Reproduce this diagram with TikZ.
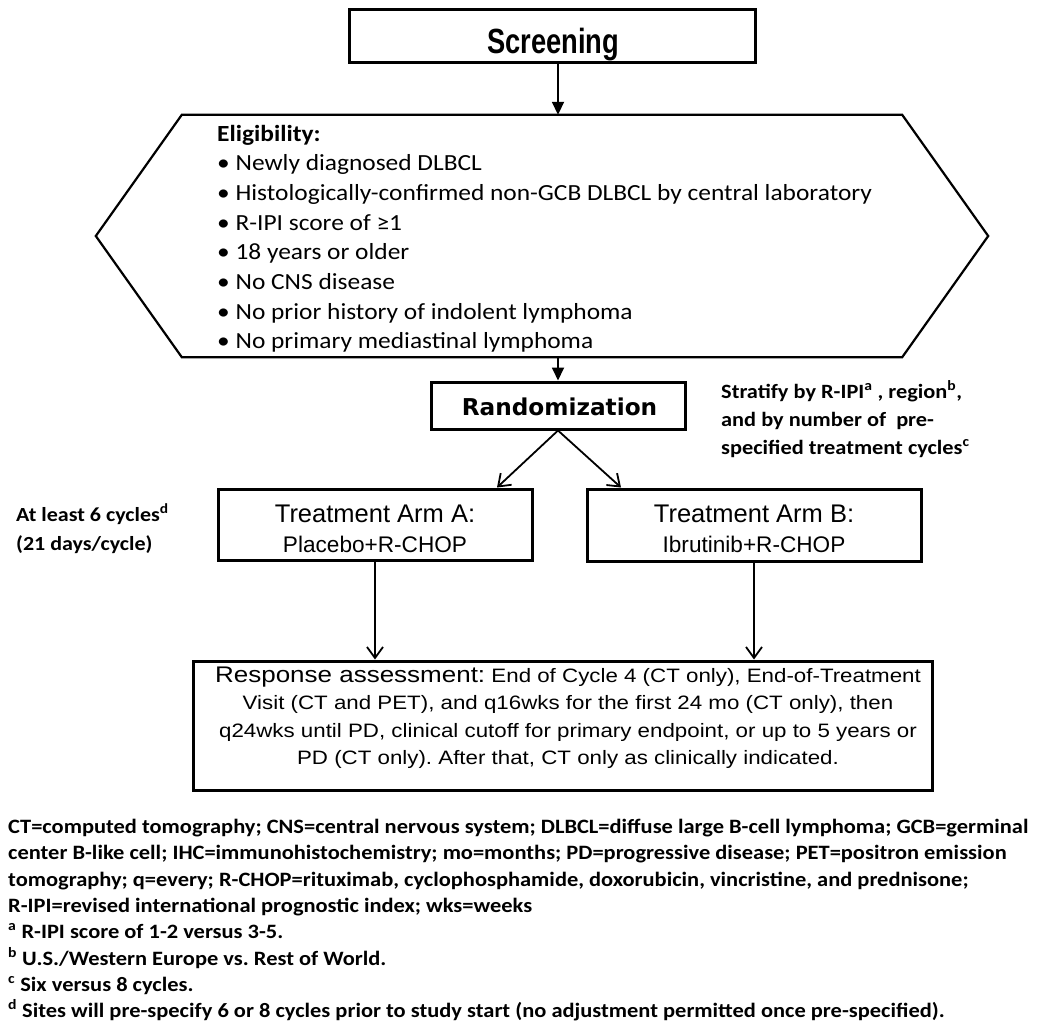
\documentclass[tikz,border=0pt]{standalone}
\usepackage{fontspec}
\setmainfont{Liberation Sans}
\newfontfamily\calfont[FakeStretch=1.1]{Carlito}
\newfontfamily\narrowfont[FakeStretch=0.78]{Liberation Sans}
\newfontfamily\respfont[FakeStretch=1.15]{Liberation Sans}
\newfontfamily\widefont{DejaVu Sans}
\usetikzlibrary{arrows.meta}
\frenchspacing
\newcommand{\sups}[1]{\textsuperscript{#1}}
\newcommand{\fs}[1]{\fontsize{#1}{#1}\selectfont}

\tikzset{
  box/.style={draw, line width=3pt, inner sep=0pt},
  txt/.style={anchor=base west, inner sep=0pt},
  ctxt/.style={anchor=base, inner sep=0pt},
  fillarrow/.style={-{Triangle[length=13pt,width=12pt]}, line width=1.8pt},
  barbarrow/.style={-{Straight Barb[length=11pt,width=16pt]}, line width=1.8pt},
  eltext/.style={txt, font=\calfont\fs{23.1}},
  notetext/.style={txt, font=\calfont\bfseries\fs{20.4}},
  resptext/.style={ctxt, font=\respfont\fs{19.4}}
}

\begin{document}
\begin{tikzpicture}[x=1pt,y=-1pt]
\useasboundingbox (0,0) rectangle (1038,1025);

\node[box, minimum width=406pt, minimum height=53pt] (scr) at (552,36.5) {};
\node[ctxt, font=\narrowfont\bfseries\fs{35}] (scrt) at (553,53) {Screening};

\node[minimum width=720pt, minimum height=242pt, inner sep=0pt] (hex) at (542,236) {};
\draw[line width=2.2pt] (hex.north west) -- (hex.north east) -- ([xshift=86pt]hex.east)
  -- (hex.south east) -- (hex.south west) -- ([xshift=-86pt]hex.west) -- cycle;
\node[eltext, font=\calfont\bfseries\fs{23.1}] (el0) at (217,141) {Eligibility:};
\foreach \t [count=\i] in {Newly diagnosed DLBCL,
  Histologically-confirmed non-GCB DLBCL by central laboratory,
  R-IPI score of ≥1, 18 years or older, No CNS disease,
  No prior history of indolent lymphoma, No primary mediastinal lymphoma}
  \node[eltext] (el\i) at (217,141+29.7*\i) {• \t};

\node[box, minimum width=254pt, minimum height=47pt] (rand) at (558,405.5) {};
\node[ctxt, font=\widefont\bfseries\fs{23.2}] (randt) at (559.5,415) {Randomization};

\node[notetext, font=\calfont\bfseries\fs{20.3}] (strat1) at (721,398) {Stratify by R-IPI\sups{a} , region\sups{b},};
\node[notetext, font=\calfont\bfseries\fs{20.3}] (strat2) at (721,426) {and by number of \ pre-};
\node[notetext, font=\calfont\bfseries\fs{20.3}] (strat3) at (721,454) {specified treatment cycles\sups{c}};

\node[notetext, font=\calfont\bfseries\fs{20}] (cyc1) at (16,521) {At least 6 cycles\sups{d}};
\node[notetext, font=\calfont\bfseries\fs{20}] (cyc2) at (16,550) {(21 days/cycle)};

\node[box, minimum width=314pt, minimum height=71pt] (armA) at (375,524.5) {};
\node[ctxt, font=\fs{25.5}] (armAt) at (375,522) {Treatment Arm A:};
\node[ctxt, font=\fs{22.6}] (armAs) at (375,552) {Placebo+R-CHOP};
\node[box, minimum width=334pt, minimum height=72pt] (armB) at (754,525) {};
\node[ctxt, font=\fs{25.5}] (armBt) at (754,522) {Treatment Arm B:};
\node[ctxt, font=\fs{22.6}] (armBs) at (754,552) {Ibrutinib+R-CHOP};

\node[box, minimum width=739pt, minimum height=129pt] (resp) at (562.5,725.5) {};
\node[resptext] (resp1) at (568,682) {{\fs{22.6}Response assessment:} End of Cycle 4 (CT only), End-of-Treatment};
\node[resptext] (resp2) at (568,709) {Visit (CT and PET), and q16wks for the first 24 mo (CT only), then};
\node[resptext] (resp3) at (568,737) {q24wks until PD, clinical cutoff for primary endpoint, or up to 5 years or};
\node[resptext] (resp4) at (568,764) {PD (CT only). After that, CT only as clinically indicated.};

\draw[fillarrow] (scr.south -| rand.north) -- (hex.north -| rand.north);
\draw[fillarrow] (hex.south -| rand.north) -- (rand.north);
\draw[barbarrow] (rand.south) -- ([xshift=122pt]armA.north);
\draw[barbarrow] (rand.south) -- ([xshift=-133pt]armB.north);
\draw[barbarrow] (armA.south) -- (armA.south |- resp.north);
\draw[barbarrow] (armB.south) -- (armB.south |- resp.north);

\node[notetext] (note1) at (8,833) {CT=computed tomography; CNS=central nervous system; DLBCL=diffuse large B-cell lymphoma; GCB=germinal};
\node[notetext] (note2) at (8,859) {center B-like cell; IHC=immunohistochemistry; mo=months; PD=progressive disease; PET=positron emission};
\node[notetext] (note3) at (8,886) {tomography; q=every; R-CHOP=rituximab, cyclophosphamide, doxorubicin, vincristine, and prednisone;};
\node[notetext] (note4) at (8,912) {R-IPI=revised international prognostic index; wks=weeks};
\node[notetext] (note5) at (8,938) {\sups{a} R-IPI score of 1-2 versus 3-5.};
\node[notetext] (note6) at (8,965) {\sups{b} U.S./Western Europe vs. Rest of World.};
\node[notetext] (note7) at (8,991) {\sups{c} Six versus 8 cycles.};
\node[notetext] (note8) at (8,1017) {\sups{d} Sites will pre-specify 6 or 8 cycles prior to study start (no adjustment permitted once pre-specified).};
\end{tikzpicture}
\end{document}
